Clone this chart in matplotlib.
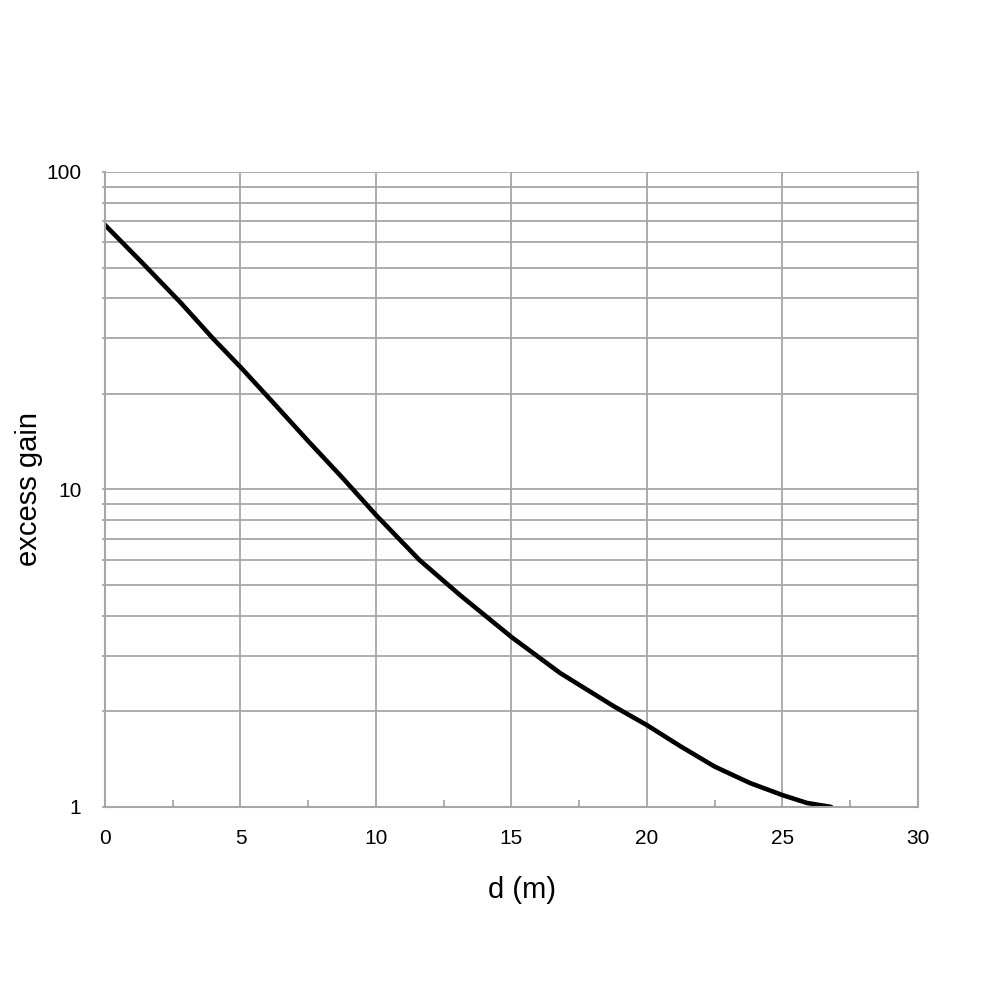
import matplotlib
matplotlib.use("Agg")
import matplotlib.pyplot as plt
from matplotlib.ticker import FixedLocator, NullFormatter

# datos
d = [0, 1.4, 2.8, 4, 5, 6.2, 7.5, 8.8, 10, 11.6, 13.1, 15, 16.8, 18.8, 20, 21.2, 22.5, 23.8, 25, 25.9, 26.8]
gain = [68.1, 51.5, 38.7, 29.8, 24.3, 18.8, 14.2, 10.8, 8.31, 6.0, 4.65, 3.43, 2.64, 2.07, 1.81, 1.56, 1.34, 1.19, 1.09, 1.03, 1.0]

plt.rcParams["font.family"] = ["Liberation Sans", "DejaVu Sans"]
gris = "#a6a6a6"

fig = plt.figure(figsize=(10, 10), dpi=100)
ax = fig.add_axes([0.105, 0.193, 0.813, 0.635])

ax.plot(d, gain, color="black", linewidth=3.3, solid_capstyle="round", solid_joinstyle="round")

ax.set_yscale("log")
ax.set_xlim(0, 30)
ax.set_ylim(1, 100)

ax.set_xticks(range(0, 31, 5))
ax.xaxis.set_minor_locator(FixedLocator([2.5, 7.5, 12.5, 17.5, 22.5, 27.5]))
ax.set_yticks([1, 10, 100])
ax.set_yticklabels(["1", "10", "100"])
ax.yaxis.set_minor_formatter(NullFormatter())

ax.grid(True, which="major", color=gris, linewidth=1.3)
ax.grid(True, which="minor", axis="y", color=gris, linewidth=1.3)

ax.tick_params(axis="x", which="major", length=0, pad=16, labelsize=15)
ax.tick_params(axis="x", which="minor", direction="in", length=5, color=gris, width=1.3)
ax.tick_params(axis="y", which="both", length=2, color=gris, width=1.3)
ax.tick_params(axis="y", which="major", pad=15, labelsize=15)

for lado in ["left", "bottom", "right"]:
    ax.spines[lado].set_color(gris)
    ax.spines[lado].set_linewidth(1.5)
ax.spines["top"].set_visible(False)

ax.set_xlabel("d (m)", fontsize=21, labelpad=20, x=0.513)
ax.set_ylabel("excess gain", fontsize=21, labelpad=2)

fig.savefig("out.png", dpi=100)
